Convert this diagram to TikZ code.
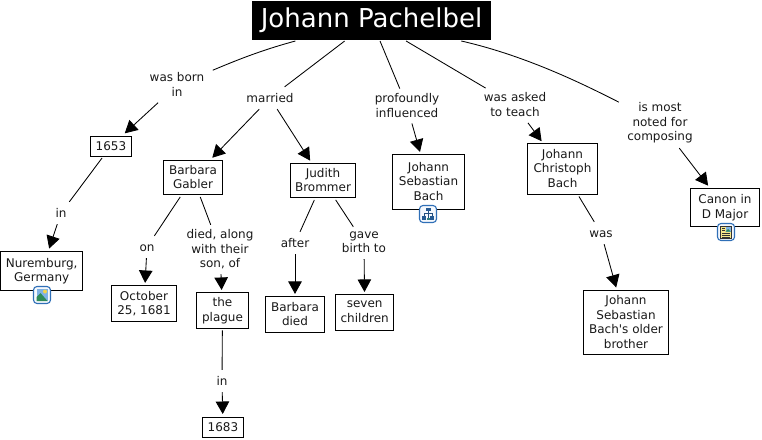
\documentclass[tikz,border=0pt]{standalone}
\usepackage{fontspec}
\setmainfont[Ligatures=TeXOff]{DejaVu Sans}
\usetikzlibrary{arrows.meta}
\definecolor{iconblue}{HTML}{2F6FB7}
\definecolor{iconbg}{HTML}{F4F8FD}
\definecolor{skyb}{HTML}{7FB2E5}
\definecolor{hillg}{HTML}{2E8B57}
\definecolor{sunny}{HTML}{F3D34A}
\definecolor{pageyel}{HTML}{F5E68C}
\definecolor{linedark}{HTML}{333333}
\newcommand{\sr}{\rule[-1.7pt]{0pt}{12.9pt}}
\newcommand{\iconframe}{\draw[iconblue,line width=1.1,fill=iconbg,rounded corners=3.5] (0.5,0.5) rectangle (17.5,17.5);}
\tikzset{
  x=1pt,y=-1pt,
  base/.style={font=\fontsize{12}{14.6}\selectfont,align=center,text=black!90,
     execute at begin node=\sr,execute at end node=\sr},
  cbox/.style={base,draw=black,line width=1.0,inner sep=0pt,outer sep=2pt,fill=white},
  lbl/.style={base,inner xsep=8.5pt,inner ysep=4.7pt,outer sep=0pt},
  titlebox/.style={fill=black,text=white,inner sep=0pt,outer sep=1pt,font=\fontsize{26}{30}\selectfont},
  conn/.style={draw=black,line width=0.85},
  arr/.style={conn,-{Triangle[length=12.5pt,width=13.5pt]},shorten >=1pt},
}
\begin{document}
\begin{tikzpicture}
\useasboundingbox (0,0) rectangle (762,439);
\node[titlebox,minimum width=239,minimum height=39] (title) at (371.5,20.5) {Johann Pachelbel};

\node[cbox,minimum width=41,minimum height=20] (y1653) at (111,146) {1653};
\node[cbox,minimum width=59,minimum height=34.5] (barbara) at (193,177.7) {Barbara\\Gabler};
\node[cbox,minimum width=65,minimum height=34.5] (judith) at (323,180.7) {Judith\\Brommer};
\node[cbox,minimum width=72,minimum height=54.5] (jsb) at (428.5,182.2) {Johann\\Sebastian\\Bach};
\node[cbox,minimum width=70,minimum height=50.5] (jcb) at (562.5,169.2) {Johann\\Christoph\\Bach};
\node[cbox,minimum width=69,minimum height=38.5] (canon) at (725,207.7) {Canon in\\D Major};
\node[cbox,minimum width=82.5,minimum height=39] (nur) at (41.7,271) {Nuremburg,\\Germany};
\node[cbox,minimum width=65,minimum height=35.5] (oct) at (144,303.7) {October\\25, 1681};
\node[cbox,minimum width=52,minimum height=35.5] (plague) at (222.5,310.7) {the\\plague};
\node[cbox,minimum width=59,minimum height=35.5] (bdied) at (295,314.7) {Barbara\\died};
\node[cbox,minimum width=58.5,minimum height=35.5] (seven) at (364.7,312.7) {seven\\children};
\node[cbox,minimum width=41,minimum height=20] (y1683) at (223,427) {1683};
\node[cbox,minimum width=85,minimum height=64.5] (older) at (626,322.7) {Johann\\Sebastian\\Bach's older\\brother};

\node[lbl] (born) at (177,85.3) {was born\\in};
\node[lbl] (married) at (270,98) {married};
\node[lbl] (prof) at (407,106) {profoundly\\influenced};
\node[lbl] (asked) at (515,105.5) {was asked\\to teach};
\node[lbl] (noted) at (660,123) {is most\\noted for\\composing};
\node[lbl] (inA) at (61,213) {in};
\node[lbl] (on) at (147,247) {on};
\node[lbl] (died) at (220,249.5) {died, along\\with their\\son, of};
\node[lbl] (after) at (295,243) {after};
\node[lbl] (gave) at (364,243) {gave\\birth to};
\node[lbl] (inB) at (222,381) {in};
\node[lbl] (was) at (601,233) {was};

\draw[conn] (title) .. controls (262,50) and (237,60) .. (born);
\draw[conn] (title) -- (married);
\draw[conn] (title) -- (prof);
\draw[conn] (title) -- (asked);
\draw[conn] (title) .. controls (527,56) and (585,85) .. (noted);
\draw[arr] (born) -- (y1653);
\draw[conn] (y1653) -- (inA);
\draw[arr] (inA) -- (nur);
\draw[arr] (married) -- (barbara);
\draw[arr] (married) -- (judith);
\draw[conn] (barbara) -- (on);
\draw[arr] (on) -- (oct);
\draw[conn] (barbara) -- (died);
\draw[arr] (died) -- (plague);
\draw[conn] (plague) -- (inB);
\draw[arr] (inB) -- (y1683);
\draw[conn] (judith) -- (after);
\draw[arr] (after) -- (bdied);
\draw[conn] (judith) -- (gave);
\draw[arr] (gave) -- (seven);
\draw[arr] (prof) -- (jsb);
\draw[arr] (asked) -- (jcb);
\draw[conn] (jcb) -- (was);
\draw[arr] (was) -- (older);
\draw[arr] (noted) -- (canon);

% image icon
\begin{scope}[shift={(33,286)}]
  \iconframe
  \fill[skyb] (3.5,3) rectangle (14.5,15);
  \fill[hillg] (3.5,15) -- (3.5,11) -- (7.5,7) -- (14.5,15) -- cycle;
  \fill[sunny] (12,5.5) circle (2);
\end{scope}
% hierarchy icon
\begin{scope}[shift={(419,205)}]
  \iconframe
  \draw[iconblue!70!black,line width=0.8] (9,6) -- (9,8.5) (5,11) -- (5,8.5) -- (13,8.5) -- (13,11) (9,8.5) -- (9,14);
  \fill[iconblue!80!black] (6.5,3) rectangle (11.5,6);
  \fill[iconblue!80!black] (3,11) rectangle (7,14.5);
  \fill[iconblue!80!black] (11,11) rectangle (15,14.5);
  \fill[hillg!60!iconblue] (7.5,12.5) rectangle (10.5,15);
\end{scope}
% document icon
\begin{scope}[shift={(717,223)}]
  \iconframe
  \fill[pageyel] (3.5,3) rectangle (14.5,15);
  \draw[linedark,line width=0.5] (3.5,3) rectangle (14.5,15);
  \fill[skyb] (8.5,4) rectangle (13.5,8.5);
  \fill[hillg] (8.5,8.5) -- (11,6) -- (13.5,8.5) -- cycle;
  \draw[linedark,line width=0.8] (5,5) -- (7.5,5) (5,7) -- (7.5,7) (5,10) -- (13,10) (5,12) -- (13,12) (5,14) -- (13,14);
\end{scope}
\end{tikzpicture}
\end{document}
